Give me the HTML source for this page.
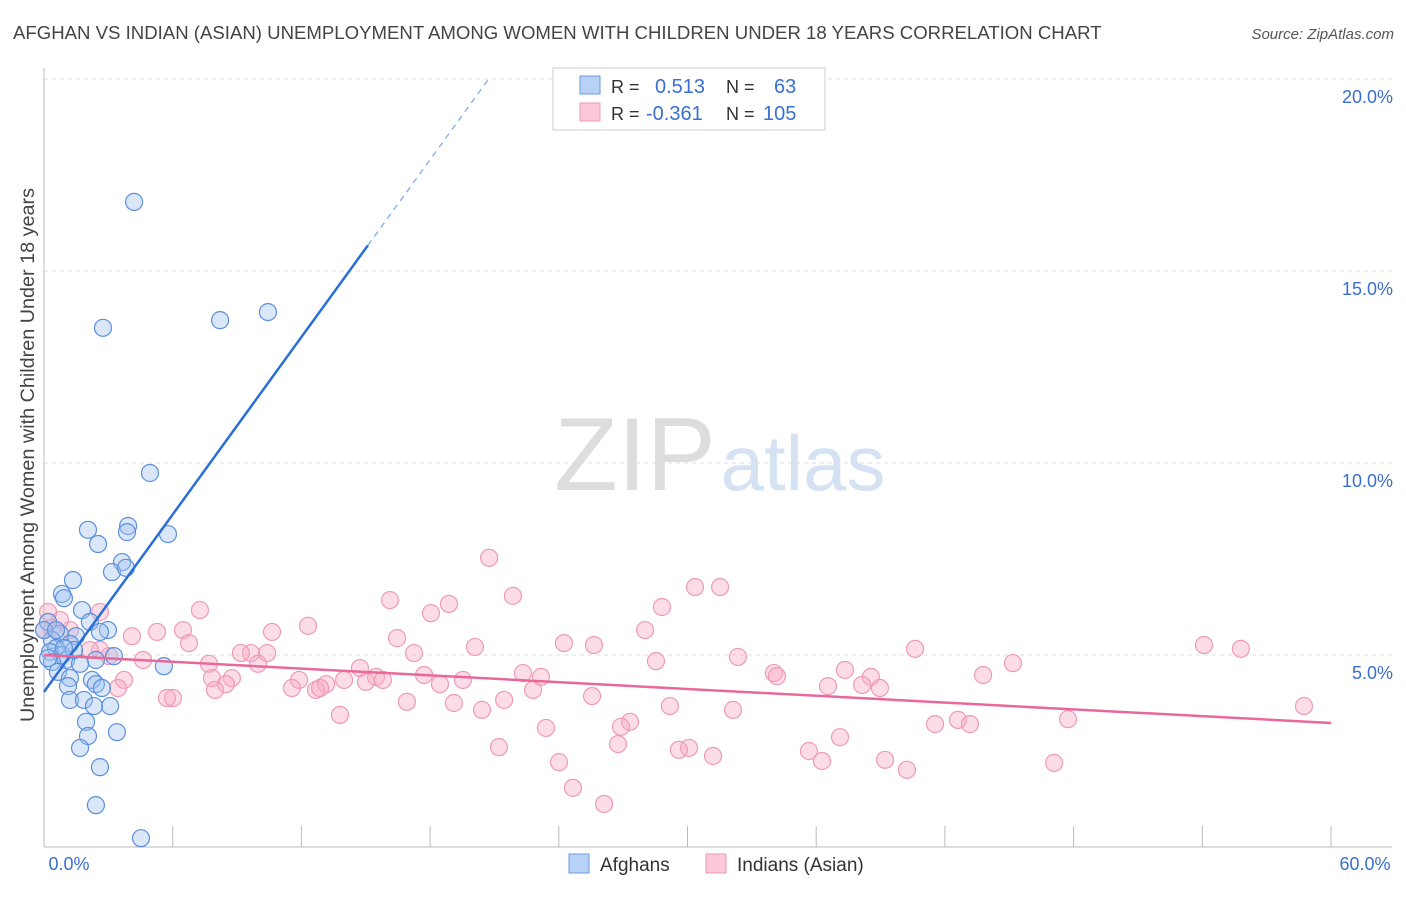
<!DOCTYPE html>
<html><head><meta charset="utf-8"><style>
body{margin:0;background:#fff;font-family:"Liberation Sans",sans-serif;}
svg text{font-family:"Liberation Sans",sans-serif;}
</style></head><body>
<svg id="chart" width="1406" height="892" viewBox="0 0 1406 892" xmlns="http://www.w3.org/2000/svg">
<text x="13" y="39" font-size="18.6" fill="#444">AFGHAN VS INDIAN (ASIAN) UNEMPLOYMENT AMONG WOMEN WITH CHILDREN UNDER 18 YEARS CORRELATION CHART</text>
<text x="1394" y="39" font-size="15" fill="#555" font-style="italic" text-anchor="end">Source: ZipAtlas.com</text>
<g id="grid"></g>
<g><text x="635" y="490" font-size="104" fill="#ddd" font-family="Liberation Serif" text-anchor="middle">ZIP</text><text x="803" y="490" font-size="78" fill="#d5e2f3" text-anchor="middle">atlas</text></g>
<line x1="44" y1="68" x2="44" y2="847" stroke="#bbb"/>
<line x1="44" y1="847" x2="1392" y2="847" stroke="#bbb"/>
<g id="ticks"></g>
<g id="pts"></g>
<g id="lines"></g>
<text x="69" y="870" font-size="18" fill="#3a6fd0" text-anchor="middle">0.0%</text>
<text x="1365" y="870" font-size="18" fill="#3a6fd0" text-anchor="middle">60.0%</text>
<text transform="translate(34,455) rotate(-90)" font-size="19.8" fill="#444" text-anchor="middle">Unemployment Among Women with Children Under 18 years</text>
<g>
<rect x="553" y="68" width="272" height="62" fill="#fff" stroke="#ccc"/>
<rect x="580" y="76" width="20" height="18" fill="#b8d2f5" stroke="#6a9be0"/>
<rect x="580" y="103" width="20" height="18" fill="#fbc9d8" stroke="#ee98b4"/>
<text x="611" y="93" font-size="18" fill="#333">R =</text><text x="655" y="93" font-size="20" fill="#3a6fd0">0.513</text>
<text x="726" y="93" font-size="18" fill="#333">N =</text><text x="774" y="93" font-size="20" fill="#3a6fd0">63</text>
<text x="611" y="120" font-size="18" fill="#333">R =</text><text x="646" y="120" font-size="20" fill="#3a6fd0">-0.361</text>
<text x="726" y="120" font-size="18" fill="#333">N =</text><text x="763" y="120" font-size="20" fill="#3a6fd0">105</text>
</g>
<g>
<rect x="569" y="854" width="20" height="19" fill="#b8d2f5" stroke="#6a9be0"/>
<text x="600" y="871" font-size="19" fill="#333">Afghans</text>
<rect x="706" y="854" width="20" height="19" fill="#fbc9d8" stroke="#ee98b4"/>
<text x="737" y="871" font-size="19" fill="#333">Indians (Asian)</text>
</g>
</svg>
<script>
const yTicks=[5,10,15,20];
const yTickLabels=["5.0%","10.0%","15.0%","20.0%"];
const xTicks=[0,6,12,18,24,30,36,42,48,54,60];
const afghanX=[4.20,2.75,8.21,10.44,4.94,2.05,3.92,3.87,5.78,2.52,3.64,3.17,3.82,1.35,0.84,0.93,1.77,2.14,0.19,2.98,2.61,1.49,0.75,0.37,1.21,0.56,0.28,0.84,1.03,3.26,2.42,1.68,0.37,5.59,0.65,1.21,2.24,2.42,2.70,1.12,1.21,1.86,3.08,2.33,1.96,2.05,3.40,1.68,2.61,2.42,4.52,0,0.56,0.19,1.4,0.93];
const afghanY=[16.80,13.52,13.72,13.93,9.74,8.26,8.36,8.20,8.15,7.89,7.42,7.16,7.27,6.95,6.59,6.48,6.17,5.86,5.86,5.65,5.60,5.49,5.55,5.39,5.29,5.18,5.08,5.00,4.87,4.97,4.87,4.77,4.82,4.71,4.56,4.40,4.35,4.24,4.14,4.19,3.83,3.83,3.67,3.67,3.26,2.89,2.99,2.58,2.08,1.09,0.23,5.65,5.65,4.92,5.13,5.18];
const indianPx=[[489,558],[695,587],[720,587],[390,600],[513,596],[200,610],[449,604],[431,613],[662,607],[100,612],[308,626],[157,632],[183,630],[645,630],[272,632],[132,636],[564,643],[594,645],[397,638],[189,643],[475,647],[1204,645],[1241,649],[915,649],[251,653],[241,653],[267,653],[414,653],[738,657],[143,660],[209,664],[656,661],[258,664],[109,656],[100,650],[70,630],[60,620],[52,628],[90,650],[360,668],[1013,663],[845,670],[523,673],[541,677],[774,673],[777,676],[983,675],[212,678],[232,678],[871,677],[226,684],[299,680],[326,684],[344,680],[376,677],[383,680],[366,682],[424,675],[463,680],[292,688],[316,690],[320,688],[440,684],[215,690],[533,690],[124,680],[118,688],[862,685],[828,686],[880,688],[407,702],[592,696],[504,700],[173,698],[167,698],[454,703],[482,710],[670,706],[733,710],[340,715],[1304,706],[1068,719],[958,720],[935,724],[970,724],[630,722],[621,727],[546,728],[840,737],[689,748],[679,750],[499,747],[618,744],[809,751],[713,756],[559,762],[822,761],[885,760],[907,770],[1054,763],[573,788],[604,804],[48,612],[44,630]];
const indianX=indianPx.map(p=>+((p[0]-44)/21.45).toFixed(2));
const indianY=indianPx.map(p=>+((847-p[1])/38.4).toFixed(2));
const afghanTrend=[4.04,0.77];
const indianTrend=[5.0,-0.0295];
const X=v=>44+v*21.45, Y=v=>847-v*38.4;
const NS="http://www.w3.org/2000/svg";
function mk(t,a,p){const e=document.createElementNS(NS,t);for(const k in a)e.setAttribute(k,a[k]);p.appendChild(e);return e;}
const grid=document.getElementById('grid');
yTicks.forEach((v,i)=>{
 const l=mk('line',{x1:44,x2:1392,y1:Y(v),y2:Y(v),stroke:'#ddd','stroke-dasharray':'4,4'},grid);
 
 
 const t=mk('text',{x:1393,y:Y(v)+24,'font-size':18,fill:'#3a6fd0','text-anchor':'end'},grid);
 t.textContent=yTickLabels[i];
 
 
});
const tk=document.getElementById('ticks');
xTicks.forEach(v=>{
 const l=mk('line',{x1:X(v),x2:X(v),y1:826,y2:847,stroke:'#bbb'},tk);
 
 
});
const pts=document.getElementById('pts');
indianX.forEach((x,i)=>{
 const c=mk('circle',{cx:X(x),cy:Y(indianY[i]),r:8.5,fill:'rgba(247,170,195,0.4)',stroke:'#ef9ab6','stroke-width':1.2},pts);
 
 
});
afghanX.forEach((x,i)=>{
 const c=mk('circle',{cx:X(x),cy:Y(afghanY[i]),r:8.5,fill:'rgba(160,195,240,0.4)',stroke:'#5c90dc','stroke-width':1.2},pts);
 
 
});
const ln=document.getElementById('lines');
const ax=x=>afghanTrend[0]+afghanTrend[1]*x;
let a=mk('line',{x1:X(0),y1:Y(ax(0)),x2:X(15.1),y2:Y(ax(15.1)),stroke:'#2a6fd6','stroke-width':2.5},ln);


const xe=(20-afghanTrend[0])/afghanTrend[1];
let b=mk('line',{x1:X(15.1),y1:Y(ax(15.1)),x2:X(xe),y2:Y(ax(xe)),stroke:'#7aa6e6','stroke-width':1.2,'stroke-dasharray':'6,5'},ln);


const ix=x=>indianTrend[0]+indianTrend[1]*x;
let c=mk('line',{x1:X(0),y1:Y(ix(0)),x2:X(60),y2:Y(ix(60)),stroke:'#e8689a','stroke-width':2.5},ln);


</script>
</body></html>
